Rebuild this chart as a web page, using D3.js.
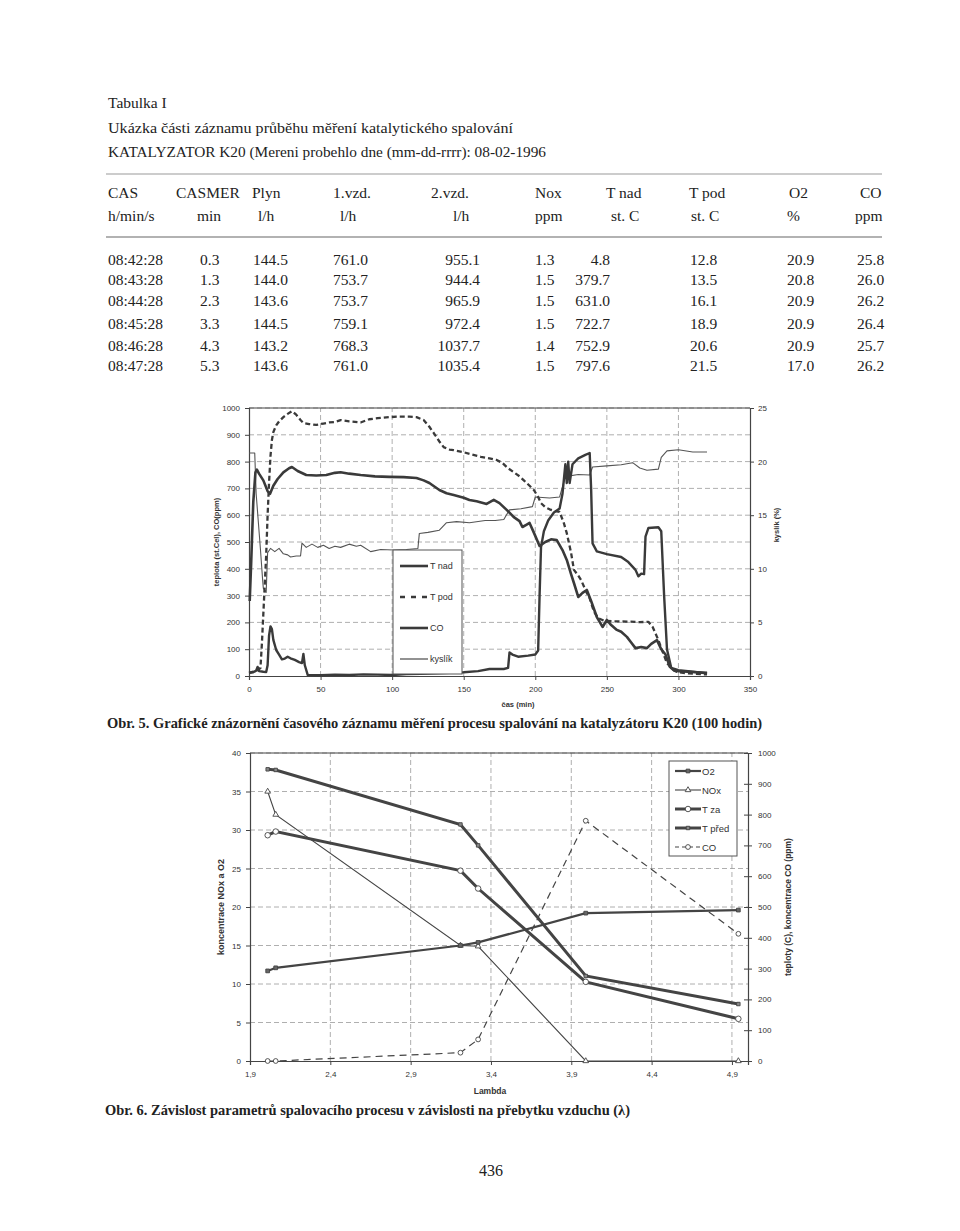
<!DOCTYPE html>
<html>
<head>
<meta charset="utf-8">
<script src="https://cdn.jsdelivr.net/npm/d3@7"></script>
<style>
  body { margin: 0; background: #fff; }
  svg { display: block; }
  .serif { font-family: "Liberation Serif", "Times New Roman", serif; fill: #222; }
  .sans { font-family: "Liberation Sans", Arial, sans-serif; fill: #333; }
  .grid line { stroke: #9a9a9a; stroke-dasharray: 5,3; stroke-width: 0.8; }
  .ax path, .ax line { stroke: #444; }
  .ax text { font-family: "Liberation Sans", Arial, sans-serif; font-size: 8px; fill: #333; }
</style>
</head>
<body>
<div id="root"></div>
<script>
const W = 960, H = 1231;

// ---- table data ----
const tableHead = ["CAS", "CASMER", "Plyn", "1.vzd.", "2.vzd.", "Nox", "T nad", "T pod", "O2", "CO"];
const tableUnits = ["h/min/s", "min", "l/h", "l/h", "l/h", "ppm", "st. C", "st. C", "%", "ppm"];
const tableRows = [
  ["08:42:28", "0.3", "144.5", "761.0", "955.1", "1.3", "4.8", "12.8", "20.9", "25.8"],
  ["08:43:28", "1.3", "144.0", "753.7", "944.4", "1.5", "379.7", "13.5", "20.8", "26.0"],
  ["08:44:28", "2.3", "143.6", "753.7", "965.9", "1.5", "631.0", "16.1", "20.9", "26.2"],
  ["08:45:28", "3.3", "144.5", "759.1", "972.4", "1.5", "722.7", "18.9", "20.9", "26.4"],
  ["08:46:28", "4.3", "143.2", "768.3", "1037.7", "1.4", "752.9", "20.6", "20.9", "25.7"],
  ["08:47:28", "5.3", "143.6", "761.0", "1035.4", "1.5", "797.6", "21.5", "17.0", "26.2"]
];

// ---- chart 1 (time record), [minutes, value] ----
const tNadPts = [[0.5,280],[1.5,420],[3,650],[4.5,760],[5.5,770],[7,755],[10,730],[13,690],[14.7,680],[17,710],[20,735],[24,760],[28,775],[30,780],[34,765],[40,750],[47,748],[54,750],[60,758],[64,760],[70,755],[78,750],[88,745],[98,743],[108,742],[117,739],[122,730],[126,720],[130,705],[133,694],[138,682],[143,675],[150,665],[154,657],[159,652],[166,642],[171,657],[175,645],[180,620],[185,593],[189,578],[191,556],[194,565],[196,571],[199,535],[203,485],[207,500],[211,510],[215,507],[219,470],[222,433],[225,380],[227,347],[230,295],[233,310],[236,321],[239,280],[243,220],[247,183],[250,209],[253,190],[257,172],[260,165],[264,146],[267,125],[270,104],[274,108],[278,104],[281,120],[285,134],[288,100],[291,80],[294,34],[297,20],[300,18],[310,15],[320,12]];
const tPodPts = [[0,12],[3,16],[6,22],[8,30],[9,120],[10,230],[11,340],[12,450],[13,600],[14,720],[15,820],[16,880],[17,910],[19,935],[21,950],[24,966],[27,978],[30,988],[33,975],[36,955],[38,944],[42,940],[47,937],[52,942],[56,946],[60,948],[64,955],[70,950],[78,946],[84,958],[90,962],[98,966],[105,968],[112,968],[117,966],[122,955],[126,930],[129,907],[133,875],[136,854],[140,845],[143,843],[150,835],[156,826],[162,818],[168,812],[173,806],[177,795],[181,775],[185,760],[189,745],[192,730],[196,710],[199,694],[202,668],[204,645],[207,630],[210,622],[214,615],[217,612],[220,570],[222,533],[225,460],[227,396],[230,375],[232,358],[236,310],[238,290],[241,240],[244,216],[248,206],[255,204],[265,203],[273,201],[279,202],[282,183],[286,134],[289,90],[292,48],[296,25],[299,15],[305,10],[320,6]];
const coPts = [[0,12],[3,14],[5,20],[6,34],[7,18],[10,16],[12,15],[13,40],[14,150],[15,185],[16,175],[17,135],[19,97],[21,80],[23,62],[25,65],[27,72],[29,66],[32,60],[35,52],[37,48],[38,82],[39,40],[41,4],[50,3],[60,5],[70,4],[80,6],[90,5],[100,4],[110,7],[120,8],[130,10],[140,12],[150,14],[160,18],[168,26],[178,26],[181,30],[182,88],[184,80],[188,72],[195,76],[200,80],[202,95],[203,300],[204,480],[206,540],[209,580],[213,610],[217,625],[219,680],[221,790],[222,720],[223,800],[224,720],[226,790],[230,812],[235,825],[238,832],[239,700],[240,495],[243,465],[250,455],[260,444],[265,425],[270,396],[272,372],[274,382],[276,380],[277,520],[279,552],[286,555],[288,540],[290,300],[292,100],[295,30],[300,22],[310,16],[320,10]];
// kyslik in %
const kyslikPts = [[0,20.8],[4,20.8],[5,17.0],[8,11.8],[9.5,9.0],[10,8.2],[12,7.8],[13,11.5],[15,11.9],[18,11.6],[21,11.9],[24,11.4],[27,11.3],[29,11.1],[33,11.2],[36,11.2],[37,12.4],[40,12.0],[44,12.3],[48,12.0],[52,12.2],[56,11.9],[60,12.1],[64,12.0],[70,12.3],[75,12.1],[78,12.2],[85,11.6],[92,11.8],[101,11.75],[110,11.8],[118,11.9],[119,13.3],[125,13.4],[133,13.6],[138,14.3],[145,14.4],[154,14.3],[165,14.5],[172,14.5],[178,14.6],[182,15.5],[190,15.6],[198,15.8],[200,16.7],[210,16.6],[217,16.7],[221,18.6],[230,18.8],[238,18.75],[240,19.5],[250,19.6],[260,19.7],[268,19.9],[273,19.4],[278,19.2],[286,19.3],[288,20.4],[292,21.0],[300,21.1],[310,20.9],[320,20.9]];
const legend1 = ["T nad", "T pod", "CO", "kyslík"];

// ---- chart 2 (lambda dependence) ----
const lambda = [2.01, 2.06, 3.21, 3.32, 3.99, 4.94];
const o2 = [11.7, 12.1, 15.0, 15.4, 19.2, 19.6];
const nox = [35.0, 32.0, 15.0, 14.9, 0, 0];
const tZa = [733, 745, 618, 560, 257, 137];
const tPred = [947, 945, 768, 700, 276, 185];
const coL = [0, 0, 27, 70, 780, 413];
const legend2 = ["O2", "NOx", "T za", "T před", "CO"];
const lambdaTicks = [1.9, 2.4, 2.9, 3.4, 3.9, 4.4, 4.9];

const svg = d3.select("#root").append("svg").attr("width", W).attr("height", H);

// ---------- header + table ----------
const txt = (x, y, s, opts = {}) => svg.append("text")
  .attr("class", opts.cls || "serif").attr("x", x).attr("y", y)
  .attr("font-size", opts.size || 15.5).attr("text-anchor", opts.anchor || "start")
  .attr("font-weight", opts.bold ? "bold" : null).text(s);

txt(108, 108, "Tabulka I");
txt(108, 133, "Ukázka části záznamu průběhu měření katalytického spalování")
  .attr("textLength", 405).attr("lengthAdjust", "spacingAndGlyphs");
txt(108, 157, "KATALYZATOR K20 (Mereni probehlo dne (mm-dd-rrrr): 08-02-1996").attr("fill", "#444")
  .attr("textLength", 438).attr("lengthAdjust", "spacingAndGlyphs");
svg.append("line").attr("x1", 106).attr("x2", 882).attr("y1", 174).attr("y2", 174).attr("stroke", "#999").attr("stroke-width", 1);
svg.append("line").attr("x1", 106).attr("x2", 882).attr("y1", 237).attr("y2", 237).attr("stroke", "#666").attr("stroke-width", 1.2);

const headX = [108, 176, 252, 333, 431, 535, 606, 689, 789, 860];
const unitX = [108, 197, 258, 340, 453, 535, 611, 691, 787, 855];
tableHead.forEach((s, i) => txt(headX[i], 198, s));
tableUnits.forEach((s, i) => txt(unitX[i], 221, s));
const colX = [108, 200, 253, 333, 480, 535, 610, 690, 787, 857];
const colA = ["start", "start", "start", "start", "end", "start", "end", "start", "start", "start"];
const rowY = [265, 285, 306, 329, 351, 371];
tableRows.forEach((r, j) => r.forEach((s, i) => txt(colX[i], rowY[j], s, { anchor: colA[i] })));

// ---------- chart 1 ----------
const x1 = d3.scaleLinear().domain([0, 350]).range([249, 750]);
const y1 = d3.scaleLinear().domain([0, 1000]).range([676, 408]);
const y1r = d3.scaleLinear().domain([0, 25]).range([676, 408]);
const plain = d3.format("d");

const g1 = svg.append("g");
g1.append("g").attr("class", "grid").selectAll("line").data(d3.range(100, 1001, 100)).join("line")
  .attr("x1", x1(0)).attr("x2", x1(350)).attr("y1", d => y1(d)).attr("y2", d => y1(d));
g1.append("g").attr("class", "grid").selectAll("line").data(d3.range(50, 350, 50)).join("line")
  .attr("x1", d => x1(d)).attr("x2", d => x1(d)).attr("y1", y1(0)).attr("y2", y1(1000));
g1.append("line").attr("x1", x1(0)).attr("x2", x1(350)).attr("y1", y1(1000)).attr("y2", y1(1000)).attr("stroke", "#444");

g1.append("g").attr("class", "ax").attr("transform", `translate(0,${y1(0)})`)
  .call(d3.axisBottom(x1).tickValues(d3.range(0, 351, 50)).tickFormat(plain).tickSize(4).tickPadding(6));
g1.append("g").attr("class", "ax").attr("transform", `translate(${x1(0)},0)`)
  .call(d3.axisLeft(y1).tickValues(d3.range(0, 1001, 100)).tickFormat(plain).tickSize(4).tickPadding(5));
g1.append("g").attr("class", "ax").attr("transform", `translate(${x1(350)},0)`)
  .call(d3.axisRight(y1r).tickValues(d3.range(0, 26, 5)).tickFormat(plain).tickSize(4).tickPadding(4));
g1.selectAll(".ax .domain").attr("stroke-width", 1.2);

svg.append("text").attr("class", "sans").attr("font-size", 7.5).attr("font-weight", "bold")
  .attr("transform", "translate(219,542) rotate(-90)").attr("text-anchor", "middle").text("teplota (st.Cel), CO(ppm)");
svg.append("text").attr("class", "sans").attr("font-size", 7.5).attr("font-weight", "bold")
  .attr("transform", "translate(779,525) rotate(-90)").attr("text-anchor", "middle").text("kyslík (%)");
svg.append("text").attr("class", "sans").attr("font-size", 7.5).attr("font-weight", "bold")
  .attr("x", 518).attr("y", 707).attr("text-anchor", "middle").text("čas (min)");

const line1 = d3.line().x(d => x1(d[0])).y(d => y1(d[1]));
const line1r = d3.line().x(d => x1(d[0])).y(d => y1r(d[1]));
const s1 = [
  { pts: kyslikPts, gen: line1r, w: 1.1, dash: null, c: "#555" },
  { pts: coPts, gen: line1, w: 2.4, dash: null, c: "#3a3a3a" },
  { pts: tNadPts, gen: line1, w: 2.6, dash: null, c: "#3a3a3a" },
  { pts: tPodPts, gen: line1, w: 2.3, dash: "5,3", c: "#3a3a3a" }
];
s1.forEach(s => g1.append("path").datum(s.pts).attr("d", s.gen)
  .attr("fill", "none").attr("stroke", s.c).attr("stroke-width", s.w)
  .attr("stroke-dasharray", s.dash).attr("stroke-linejoin", "round"));

const lg1 = svg.append("g").attr("transform", "translate(393,550)");
lg1.append("rect").attr("width", 69).attr("height", 124).attr("fill", "#fff").attr("stroke", "#555");
const lg1Style = [{ w: 2.6, dash: null }, { w: 2.6, dash: "5,6" }, { w: 2.6, dash: null }, { w: 1.1, dash: null }];
legend1.forEach((k, i) => {
  const yy = 16 + i * 31;
  lg1.append("line").attr("x1", 7).attr("x2", 35).attr("y1", yy).attr("y2", yy)
    .attr("stroke", "#3a3a3a").attr("stroke-width", lg1Style[i].w).attr("stroke-dasharray", lg1Style[i].dash);
  lg1.append("text").attr("class", "sans").attr("font-size", 9).attr("x", 37).attr("y", yy + 3).text(k);
});

txt(107, 728, "Obr. 5. Grafické znázornění časového záznamu měření procesu spalování na katalyzátoru K20 (100 hodin)", { bold: true, size: 15 })
  .attr("textLength", 655).attr("lengthAdjust", "spacingAndGlyphs");

// ---------- chart 2 ----------
const x2 = d3.scaleLinear().domain([1.9, 5.0]).range([250, 748]);
const y2 = d3.scaleLinear().domain([0, 40]).range([1061, 753]);
const y2r = d3.scaleLinear().domain([0, 1000]).range([1061, 753]);

const g2 = svg.append("g");
g2.append("g").attr("class", "grid").selectAll("line").data(d3.range(5, 41, 5)).join("line")
  .attr("x1", x2(1.9)).attr("x2", x2(5.0)).attr("y1", d => y2(d)).attr("y2", d => y2(d));
g2.append("g").attr("class", "grid").selectAll("line").data(lambdaTicks.slice(1)).join("line")
  .attr("x1", d => x2(d)).attr("x2", d => x2(d)).attr("y1", y2(0)).attr("y2", y2(40));
g2.append("line").attr("x1", x2(1.9)).attr("x2", x2(5.0)).attr("y1", y2(40)).attr("y2", y2(40)).attr("stroke", "#444");

const comma = d => String(d).replace(".", ",");
g2.append("g").attr("class", "ax").attr("transform", `translate(0,${y2(0)})`)
  .call(d3.axisBottom(x2).tickValues(lambdaTicks).tickFormat(d => comma(d.toFixed(1))).tickSize(4).tickPadding(6));
g2.append("g").attr("class", "ax").attr("transform", `translate(${x2(1.9)},0)`)
  .call(d3.axisLeft(y2).tickValues(d3.range(0, 41, 5)).tickFormat(plain).tickSize(4).tickPadding(5));
const ar = g2.append("g").attr("class", "ax").attr("transform", `translate(${x2(5.0)},0)`)
  .call(d3.axisRight(y2r).tickValues(d3.range(0, 1001, 100)).tickFormat(plain).tickSize(4).tickPadding(6));
ar.selectAll(".tick line").attr("x1", -4);
g2.selectAll(".ax .domain").attr("stroke-width", 1.2);

svg.append("text").attr("class", "sans").attr("font-size", 9).attr("font-weight", "bold")
  .attr("transform", "translate(224,907) rotate(-90)").attr("text-anchor", "middle").text("koncentrace NOx a O2");
svg.append("text").attr("class", "sans").attr("font-size", 8.5).attr("font-weight", "bold")
  .attr("transform", "translate(791,907) rotate(-90)").attr("text-anchor", "middle").text("teploty (C), koncentrace CO (ppm)");
svg.append("text").attr("class", "sans").attr("font-size", 8.5).attr("font-weight", "bold")
  .attr("x", 490).attr("y", 1094).attr("text-anchor", "middle").text("Lambda");

const s2 = [
  { v: coL, y: y2r, w: 1.2, dash: "7,5", sym: d3.symbolCircle, size: 18, fill: "#fff" },
  { v: nox, y: y2, w: 1.1, dash: null, sym: d3.symbolTriangle, size: 14, fill: "#fff" },
  { v: o2, y: y2, w: 2.2, dash: null, sym: d3.symbolSquare, size: 14, fill: "#666" },
  { v: tZa, y: y2r, w: 3, dash: null, sym: d3.symbolCircle, size: 24, fill: "#fff" },
  { v: tPred, y: y2r, w: 3, dash: null, sym: d3.symbolSquare, size: 12, fill: "#888" }
];
s2.forEach(s => {
  const pts = lambda.map((l, i) => [l, s.v[i]]);
  g2.append("path").datum(pts)
    .attr("d", d3.line().x(d => x2(d[0])).y(d => s.y(d[1])))
    .attr("fill", "none").attr("stroke", "#444").attr("stroke-width", s.w).attr("stroke-dasharray", s.dash);
  g2.selectAll(null).data(pts).join("path")
    .attr("transform", d => `translate(${x2(d[0])},${s.y(d[1])})`)
    .attr("d", d3.symbol().type(s.sym).size(s.size))
    .attr("fill", s.fill).attr("stroke", "#444").attr("stroke-width", 0.9);
});

const lg2 = svg.append("g").attr("transform", "translate(669,761)");
lg2.append("rect").attr("width", 68).attr("height", 95).attr("fill", "#fff").attr("stroke", "#555");
const lg2Order = [2, 1, 3, 4, 0];
legend2.forEach((k, i) => {
  const s = s2[lg2Order[i]];
  const yy = 10 + i * 19;
  lg2.append("line").attr("x1", 6).attr("x2", 32).attr("y1", yy).attr("y2", yy)
    .attr("stroke", "#444").attr("stroke-width", s.w).attr("stroke-dasharray", s.dash ? "4,3" : null);
  lg2.append("path").attr("transform", `translate(19,${yy})`)
    .attr("d", d3.symbol().type(s.sym).size(s.size)).attr("fill", s.fill).attr("stroke", "#444").attr("stroke-width", 0.9);
  lg2.append("text").attr("class", "sans").attr("font-size", 9.5).attr("x", 33).attr("y", yy + 3.5).text(k);
});

txt(105, 1115, "Obr. 6. Závislost parametrů spalovacího procesu v závislosti na přebytku vzduchu (λ)", { bold: true, size: 15 })
  .attr("textLength", 525).attr("lengthAdjust", "spacingAndGlyphs");

txt(491, 1176, "436", { anchor: "middle", size: 16 });
</script>
</body>
</html>
